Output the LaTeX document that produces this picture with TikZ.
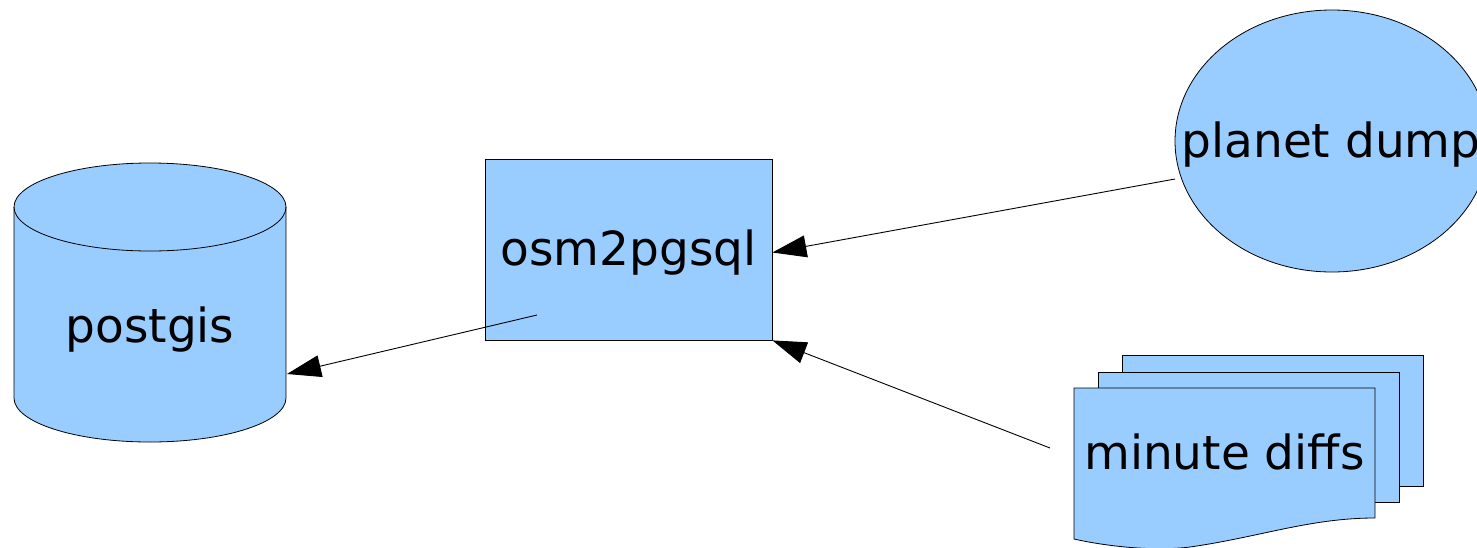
\documentclass[tikz,border=0pt]{standalone}
\usepackage{fontspec}
\setmainfont{DejaVu Sans}
\usetikzlibrary{arrows.meta,shapes.geometric}
\definecolor{boxblue}{HTML}{99CCFF}
\tikzset{
  shapefill/.style={fill=boxblue, draw=black, line width=0.8pt},
  lbl/.style={font=\fontsize{47}{56}\selectfont, inner sep=0pt, anchor=base},
  conn/.style={draw=black, line width=0.9pt, -{Triangle[length=34pt,width=22pt]}},
}
\begin{document}
\begin{tikzpicture}[x=1pt,y=1pt]
\useasboundingbox (0,0) rectangle (1477,-547);
\clip (0,0) rectangle (1477,-547);
% postgis cylinder
\path[shapefill] (14,-207) -- (14,-398)
  arc[start angle=180,end angle=360,x radius=136,y radius=44]
  -- (286,-207)
  arc[start angle=0,end angle=180,x radius=136,y radius=44] -- cycle;
\draw[line width=0.8pt] (14,-207) arc[start angle=180,end angle=360,x radius=136,y radius=44];
\node[lbl] (pg) at (150,-342) {postgis};
% osm2pgsql box
\node[shapefill, rectangle, minimum width=287pt, minimum height=181pt, inner sep=0pt] (osm) at (628.5,-249.5) {};
\node[lbl] (osmtxt) at (628.5,-265) {osm2pgsql};
% planet dump ellipse
\node[shapefill, ellipse, minimum width=314pt, minimum height=262pt, inner sep=0pt] (pd) at (1332,-141) {};
\node[lbl] (pdtxt) at (1331,-157) {planet dump};
% minute diffs multi-document
\path[shapefill] (1122,-355) rectangle (1423,-486);
\path[shapefill] (1098,-372) rectangle (1399,-502);
\path[shapefill] (1074,-388) -- (1375,-388) -- (1375,-518)
  .. controls (1310,-518) and (1260,-537) .. (1190,-547)
  .. controls (1150,-552) and (1100,-545) .. (1074,-539) -- cycle;
\node[lbl] (md) at (1224.5,-469) {minute diffs};
% connectors
\coordinate (pdout) at (1175,-179);
\coordinate (mdout) at (1050,-448);
\coordinate (osmout) at (537,-315);
\coordinate (pgin) at (287,-374);
\draw[conn] (pdout) -- ([yshift=-3pt]osm.east);
\draw[conn] (mdout) -- (osm.south east);
\draw[conn] (osmout) -- (pgin);
\end{tikzpicture}
\end{document}
